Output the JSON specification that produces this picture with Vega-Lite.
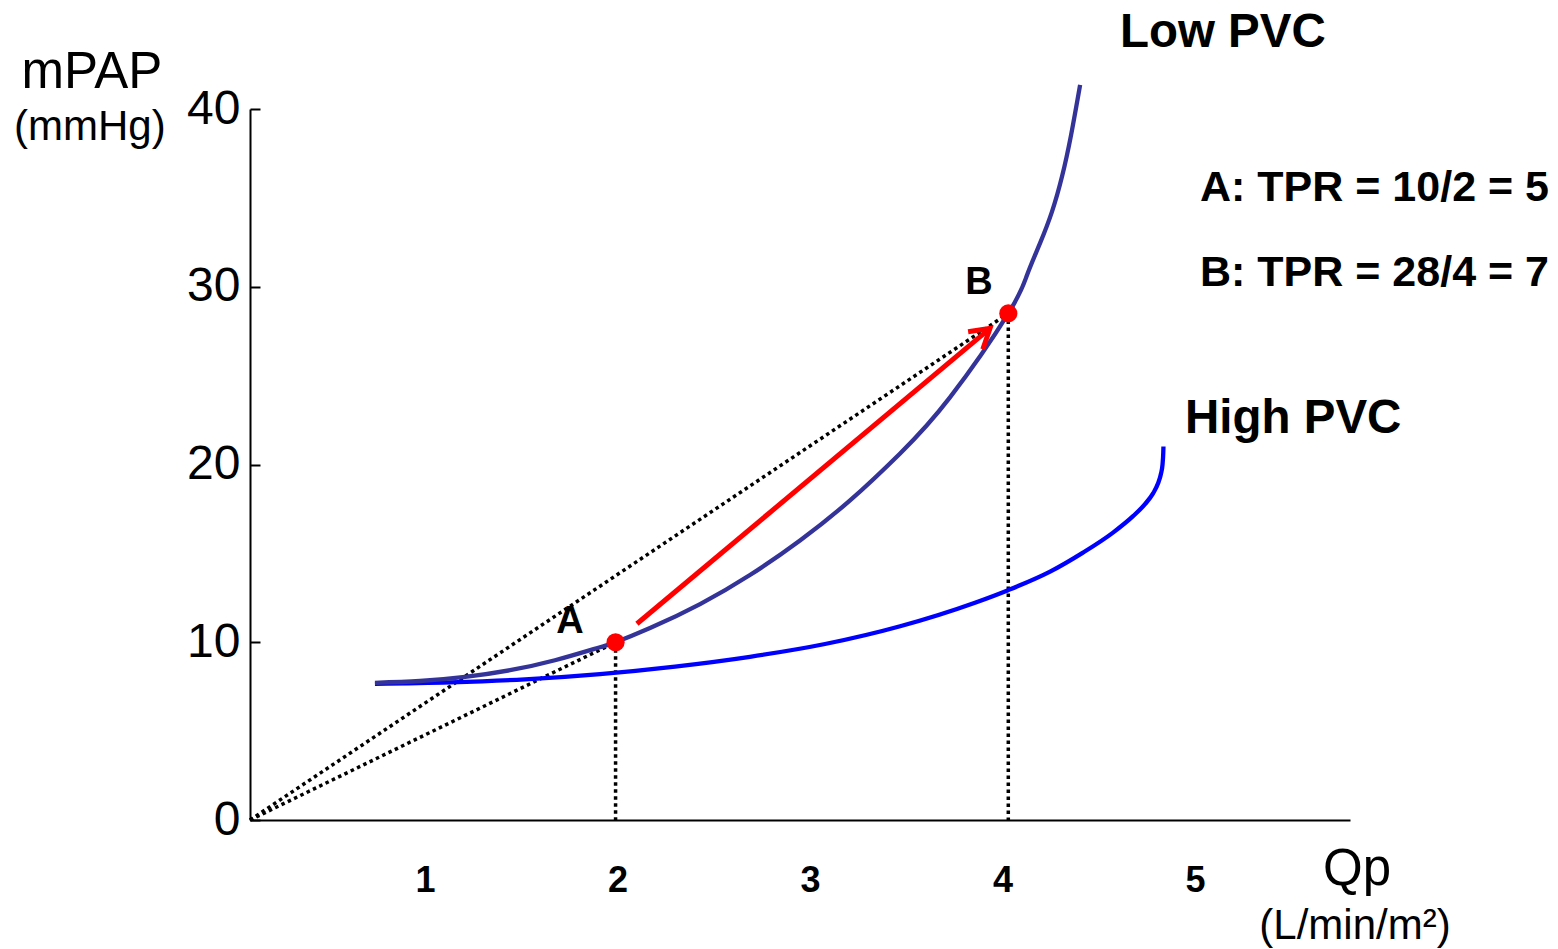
{
  "$schema": "https://vega.github.io/schema/vega-lite/v6.json",
  "autosize": {"type": "none"},
  "width": 1100,
  "height": 711,
  "padding": {"left": 250, "top": 109, "right": 208, "bottom": 129},
  "background": "white",
  "config": {
    "font": "Liberation Sans",
    "view": {"stroke": null}
  },
  "datasets": {
    "curves": [
      {"curve": "Low PVC", "qp": 0.740, "pap": 7.718},
      {"curve": "Low PVC", "qp": 0.974, "pap": 7.820},
      {"curve": "Low PVC", "qp": 1.208, "pap": 8.048},
      {"curve": "Low PVC", "qp": 1.442, "pap": 8.428},
      {"curve": "Low PVC", "qp": 1.675, "pap": 8.986},
      {"curve": "Low PVC", "qp": 1.909, "pap": 9.721},
      {"curve": "Low PVC", "qp": 1.990, "pap": 10.00},
      {"curve": "Low PVC", "qp": 2.169, "pap": 10.797},
      {"curve": "Low PVC", "qp": 2.429, "pap": 12.149},
      {"curve": "Low PVC", "qp": 2.688, "pap": 13.783},
      {"curve": "Low PVC", "qp": 2.948, "pap": 15.727},
      {"curve": "Low PVC", "qp": 3.208, "pap": 17.980},
      {"curve": "Low PVC", "qp": 3.468, "pap": 20.620},
      {"curve": "Low PVC", "qp": 3.727, "pap": 23.775},
      {"curve": "Low PVC", "qp": 4.030, "pap": 28.50},
      {"curve": "Low PVC", "qp": 4.127, "pap": 30.648},
      {"curve": "Low PVC", "qp": 4.195, "pap": 32.451},
      {"curve": "Low PVC", "qp": 4.257, "pap": 34.225},
      {"curve": "Low PVC", "qp": 4.309, "pap": 36.197},
      {"curve": "Low PVC", "qp": 4.356, "pap": 38.535},
      {"curve": "Low PVC", "qp": 4.403, "pap": 41.352},
      {"curve": "High PVC", "qp": 0.740, "pap": 7.662},
      {"curve": "High PVC", "qp": 1.130, "pap": 7.746},
      {"curve": "High PVC", "qp": 1.520, "pap": 7.915},
      {"curve": "High PVC", "qp": 1.909, "pap": 8.211},
      {"curve": "High PVC", "qp": 2.299, "pap": 8.634},
      {"curve": "High PVC", "qp": 2.688, "pap": 9.183},
      {"curve": "High PVC", "qp": 3.078, "pap": 9.901},
      {"curve": "High PVC", "qp": 3.468, "pap": 10.901},
      {"curve": "High PVC", "qp": 3.857, "pap": 12.225},
      {"curve": "High PVC", "qp": 4.029, "pap": 12.930},
      {"curve": "High PVC", "qp": 4.247, "pap": 13.972},
      {"curve": "High PVC", "qp": 4.418, "pap": 15.042},
      {"curve": "High PVC", "qp": 4.574, "pap": 16.169},
      {"curve": "High PVC", "qp": 4.678, "pap": 17.093},
      {"curve": "High PVC", "qp": 4.740, "pap": 17.769},
      {"curve": "High PVC", "qp": 4.782, "pap": 18.377},
      {"curve": "High PVC", "qp": 4.808, "pap": 18.941},
      {"curve": "High PVC", "qp": 4.823, "pap": 19.482},
      {"curve": "High PVC", "qp": 4.831, "pap": 19.989},
      {"curve": "High PVC", "qp": 4.835, "pap": 20.665},
      {"curve": "High PVC", "qp": 4.836, "pap": 21.014}
    ],
    "guides": [
      {"seg": "OA", "qp": 0.091, "pap": 0},
      {"seg": "OA", "qp": 1.99, "pap": 10},
      {"seg": "OB", "qp": 0.091, "pap": 0},
      {"seg": "OB", "qp": 4.03, "pap": 28.5},
      {"seg": "vA", "qp": 1.99, "pap": 10},
      {"seg": "vA", "qp": 1.99, "pap": 0},
      {"seg": "vB", "qp": 4.03, "pap": 28.5},
      {"seg": "vB", "qp": 4.03, "pap": 0}
    ],
    "arrow": [
      {"qp": 2.101, "pap": 11.04},
      {"qp": 3.935, "pap": 27.66}
    ],
    "arrowhead": [
      {"qp": 3.935, "pap": 27.66}
    ],
    "pointsAB": [
      {"point": "A", "qp": 1.99, "pap": 10},
      {"point": "B", "qp": 4.03, "pap": 28.5}
    ],
    "notes": [
      {"text": "mPAP", "qp": -0.73, "pap": 41.18, "kind": "title"},
      {"text": "Qp", "qp": 5.842, "pap": -3.66, "kind": "title"},
      {"text": "(mmHg)", "qp": -0.741, "pap": 38.25, "kind": "unit"},
      {"text": "(L/min/m²)", "qp": 5.831, "pap": -6.70, "kind": "unit"},
      {"text": "Low PVC", "qp": 4.61, "pap": 43.49, "kind": "curve"},
      {"text": "High PVC", "qp": 4.948, "pap": 21.75, "kind": "curve"},
      {"text": "A: TPR = 10/2 = 5", "qp": 5.026, "pap": 34.82, "kind": "tpr"},
      {"text": "B: TPR = 28/4 = 7", "qp": 5.026, "pap": 30.03, "kind": "tpr"},
      {"text": "A", "qp": 1.753, "pap": 10.54, "kind": "point"},
      {"text": "B", "qp": 3.878, "pap": 29.58, "kind": "point"}
    ]
  },
  "encoding": {
    "x": {
      "field": "qp", "type": "quantitative",
      "scale": {"domain": [0.091, 5.805], "nice": false, "zero": false},
      "axis": {
        "title": null, "values": [1, 2, 3, 4, 5], "grid": false,
        "ticks": false, "tickSize": 0,
        "domainColor": "black", "domainWidth": 2,
        "labelFontSize": 36, "labelFontWeight": "bold", "labelColor": "black",
        "labelPadding": 43, "labelFont": "Liberation Sans"
      }
    },
    "y": {
      "field": "pap", "type": "quantitative",
      "scale": {"domain": [0, 40], "nice": false},
      "axis": {
        "title": null, "values": [0, 10, 20, 30, 40], "grid": false,
        "ticks": true, "tickSize": -10, "tickColor": "black", "tickWidth": 2,
        "domainColor": "black", "domainWidth": 2,
        "labelFontSize": 48, "labelColor": "black", "labelPadding": 20,
        "labelFont": "Liberation Sans"
      }
    }
  },
  "layer": [
    {
      "data": {"name": "guides"},
      "mark": {"type": "line", "color": "black", "strokeWidth": 3.5, "strokeDash": [3.5, 3.5]},
      "encoding": {"detail": {"field": "seg"}}
    },
    {
      "data": {"name": "curves"},
      "transform": [{"filter": "datum.curve === 'High PVC'"}],
      "mark": {"type": "line", "strokeWidth": 4.3, "interpolate": "monotone"},
      "encoding": {
        "color": {
          "field": "curve", "type": "nominal",
          "scale": {"domain": ["Low PVC", "High PVC"], "range": ["#333399", "#0000ff"]},
          "legend": null
        }
      }
    },
    {
      "data": {"name": "curves"},
      "transform": [{"filter": "datum.curve === 'Low PVC'"}],
      "mark": {"type": "line", "strokeWidth": 4.3, "interpolate": "natural"},
      "encoding": {
        "color": {
          "field": "curve", "type": "nominal",
          "scale": {"domain": ["Low PVC", "High PVC"], "range": ["#333399", "#0000ff"]},
          "legend": null
        }
      }
    },
    {
      "data": {"name": "arrow"},
      "mark": {"type": "line", "color": "#ff0000", "strokeWidth": 5},
      "encoding": {}
    },
    {
      "data": {"name": "arrowhead"},
      "mark": {
        "type": "point", "shape": "M -0.6 1 L 0 0 L 0.6 1", "angle": 50,
        "size": 1444, "filled": false, "stroke": "#ff0000", "strokeWidth": 5,
        "opacity": 1, "strokeJoin": "miter"
      }
    },
    {
      "data": {"name": "pointsAB"},
      "mark": {"type": "circle", "color": "#ff0000", "size": 330, "opacity": 1}
    },
    {
      "data": {"name": "notes"},
      "transform": [{"filter": "datum.kind === 'title'"}],
      "mark": {"type": "text", "fontSize": 51, "align": "center", "baseline": "alphabetic", "color": "black"},
      "encoding": {"text": {"field": "text"}}
    },
    {
      "data": {"name": "notes"},
      "transform": [{"filter": "datum.kind === 'unit'"}],
      "mark": {"type": "text", "fontSize": 42, "align": "center", "baseline": "alphabetic", "color": "black"},
      "encoding": {"text": {"field": "text"}}
    },
    {
      "data": {"name": "notes"},
      "transform": [{"filter": "datum.kind === 'curve'"}],
      "mark": {"type": "text", "fontSize": 47.5, "fontWeight": "bold", "align": "left", "baseline": "alphabetic", "color": "black"},
      "encoding": {"text": {"field": "text"}}
    },
    {
      "data": {"name": "notes"},
      "transform": [{"filter": "datum.kind === 'tpr'"}],
      "mark": {"type": "text", "fontSize": 43, "fontWeight": "bold", "align": "left", "baseline": "alphabetic", "color": "black"},
      "encoding": {"text": {"field": "text"}}
    },
    {
      "data": {"name": "notes"},
      "transform": [{"filter": "datum.kind === 'point'"}],
      "mark": {"type": "text", "fontSize": 38, "fontWeight": "bold", "align": "center", "baseline": "alphabetic", "color": "black"},
      "encoding": {"text": {"field": "text"}}
    }
  ]
}
